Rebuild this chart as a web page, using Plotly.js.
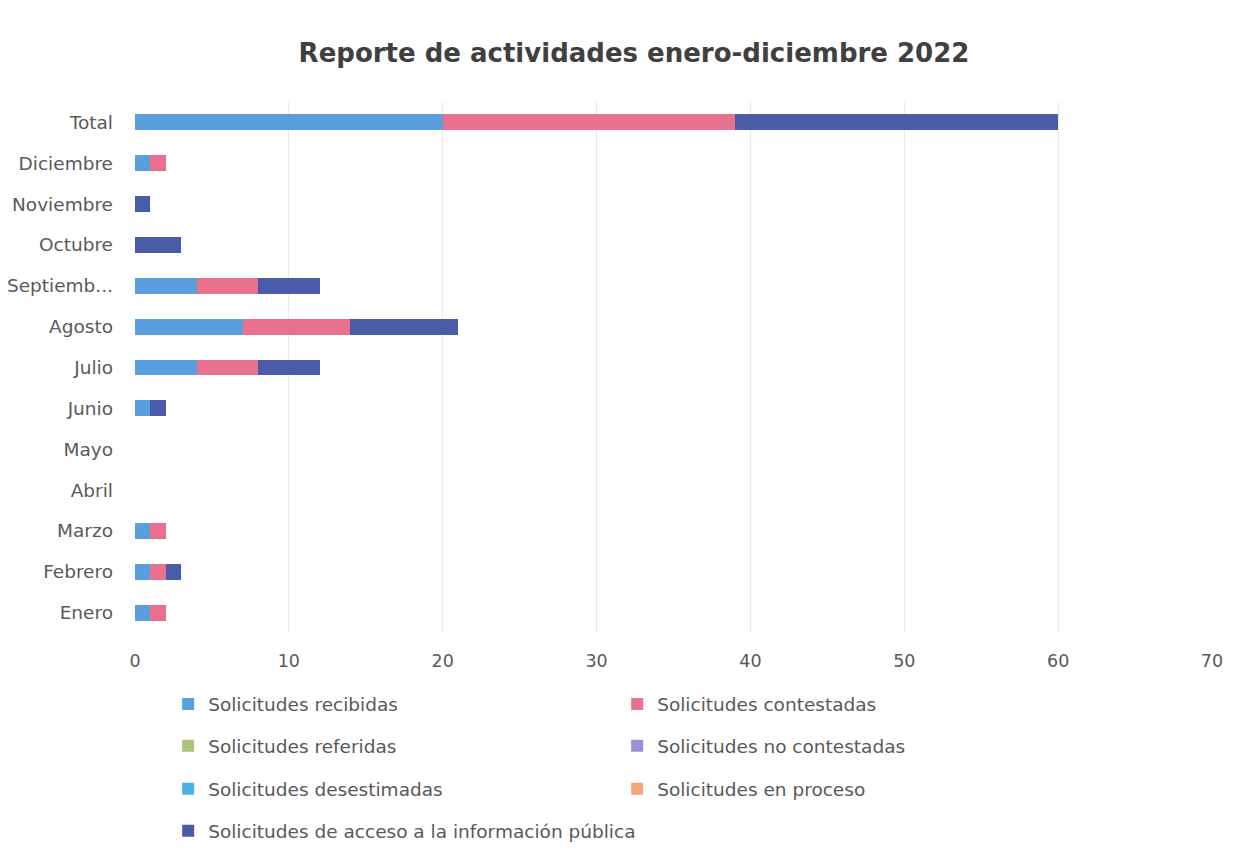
<!DOCTYPE html>
<html>
<head>
<meta charset="utf-8">
<script src="https://cdn.plot.ly/plotly-3.0.1.min.js"></script>
<style>html,body{margin:0;padding:0;background:#fff;}#chart{width:1242px;height:861px;}</style>
</head>
<body>
<div id="chart"></div>
<script>
const months = ["Enero","Febrero","Marzo","Abril","Mayo","Junio","Julio","Agosto","Septiembre","Octubre","Noviembre","Diciembre","Total"];
const monthLabels = ["Enero","Febrero","Marzo","Abril","Mayo","Junio","Julio","Agosto","Septiemb...","Octubre","Noviembre","Diciembre","Total"];
const recibidas     = [1,1,1,0,0,1,4,7,4,0,0,1,20];
const contestadas   = [1,1,1,0,0,0,4,7,4,0,0,1,19];
const referidas     = [0,0,0,0,0,0,0,0,0,0,0,0,0];
const noContestadas = [0,0,0,0,0,0,0,0,0,0,0,0,0];
const desestimadas  = [0,0,0,0,0,0,0,0,0,0,0,0,0];
const enProceso     = [0,0,0,0,0,0,0,0,0,0,0,0,0];
const acceso        = [0,1,0,0,0,1,4,7,4,3,1,0,21];
const seriesNames = ["Solicitudes recibidas","Solicitudes contestadas","Solicitudes referidas","Solicitudes no contestadas","Solicitudes desestimadas","Solicitudes en proceso","Solicitudes de acceso a la información pública"];
const xTicks = [0,10,20,30,40,50,60,70];

const seriesValues = [recibidas, contestadas, referidas, noContestadas, desestimadas, enProceso, acceso];
const colors = ["#5A9FDD","#E8728D","#A8C47E","#9C8FDA","#4CB0E0","#F4A67B","#4A5CA8"];
const legendIds = ["legend","legend","legend2","legend2","legend3","legend3","legend4"];

const traces = seriesValues.map((vals, i) => ({
  type: "bar",
  orientation: "h",
  name: seriesNames[i],
  x: vals,
  y: months,
  marker: {color: colors[i], line: {width: 0}},
  width: 0.39,
  legend: legendIds[i],
  hoverinfo: "x+name"
}));

const FONT = "DejaVu Sans, sans-serif";
const legendFont = {family: FONT, size: 18.5, color: "#595959"};
function mkLegend(y, ew) {
  return {orientation: "h", x: 0.0308, xanchor: "left", y: y, yanchor: "middle",
          font: legendFont, entrywidth: ew, entrywidthmode: "pixels",
          itemclick: false, itemdoubleclick: false, bgcolor: "rgba(0,0,0,0)", traceorder: "normal"};
}
const plotH = 533;
function py(pix) { return (634.5 - pix) / plotH; }

const layout = {
  width: 1242, height: 861,
  paper_bgcolor: "#ffffff", plot_bgcolor: "#ffffff",
  margin: {l: 135, r: 30, t: 101.5, b: 226.5},
  barmode: "stack",
  title: {text: "Reporte de actividades enero-diciembre 2022",
          font: {family: FONT, size: 26, color: "#404040", weight: "bold"},
          x: 634/1242, xanchor: "center", xref: "container", y: 1 - 53/861, yanchor: "middle", yref: "container"},
  xaxis: {range: [0, 70], tickvals: xTicks, ticktext: xTicks.map(String), showgrid: true, gridcolor: "#E8E8E8", gridwidth: 1,
          zeroline: false, showline: false, ticks: "", ticklabelstandoff: 15,
          tickfont: {family: FONT, size: 17.5, color: "#595959"}, fixedrange: true},
  yaxis: {type: "category", categoryorder: "array", categoryarray: months, tickvals: months, ticktext: monthLabels,
          range: [-0.5, 12.5], showgrid: false, zeroline: false, showline: false, ticks: "", ticklabelstandoff: 21,
          tickfont: {family: FONT, size: 18.5, color: "#595959"}, fixedrange: true},
  showlegend: true,
  legend: mkLegend(py(705), 404),
  legend2: mkLegend(py(747), 404),
  legend3: mkLegend(py(790), 404),
  legend4: mkLegend(py(832), 0),
  font: {family: FONT, color: "#595959"}
};

Plotly.newPlot("chart", traces, layout, {displayModeBar: false, staticPlot: true});
</script>
</body>
</html>
